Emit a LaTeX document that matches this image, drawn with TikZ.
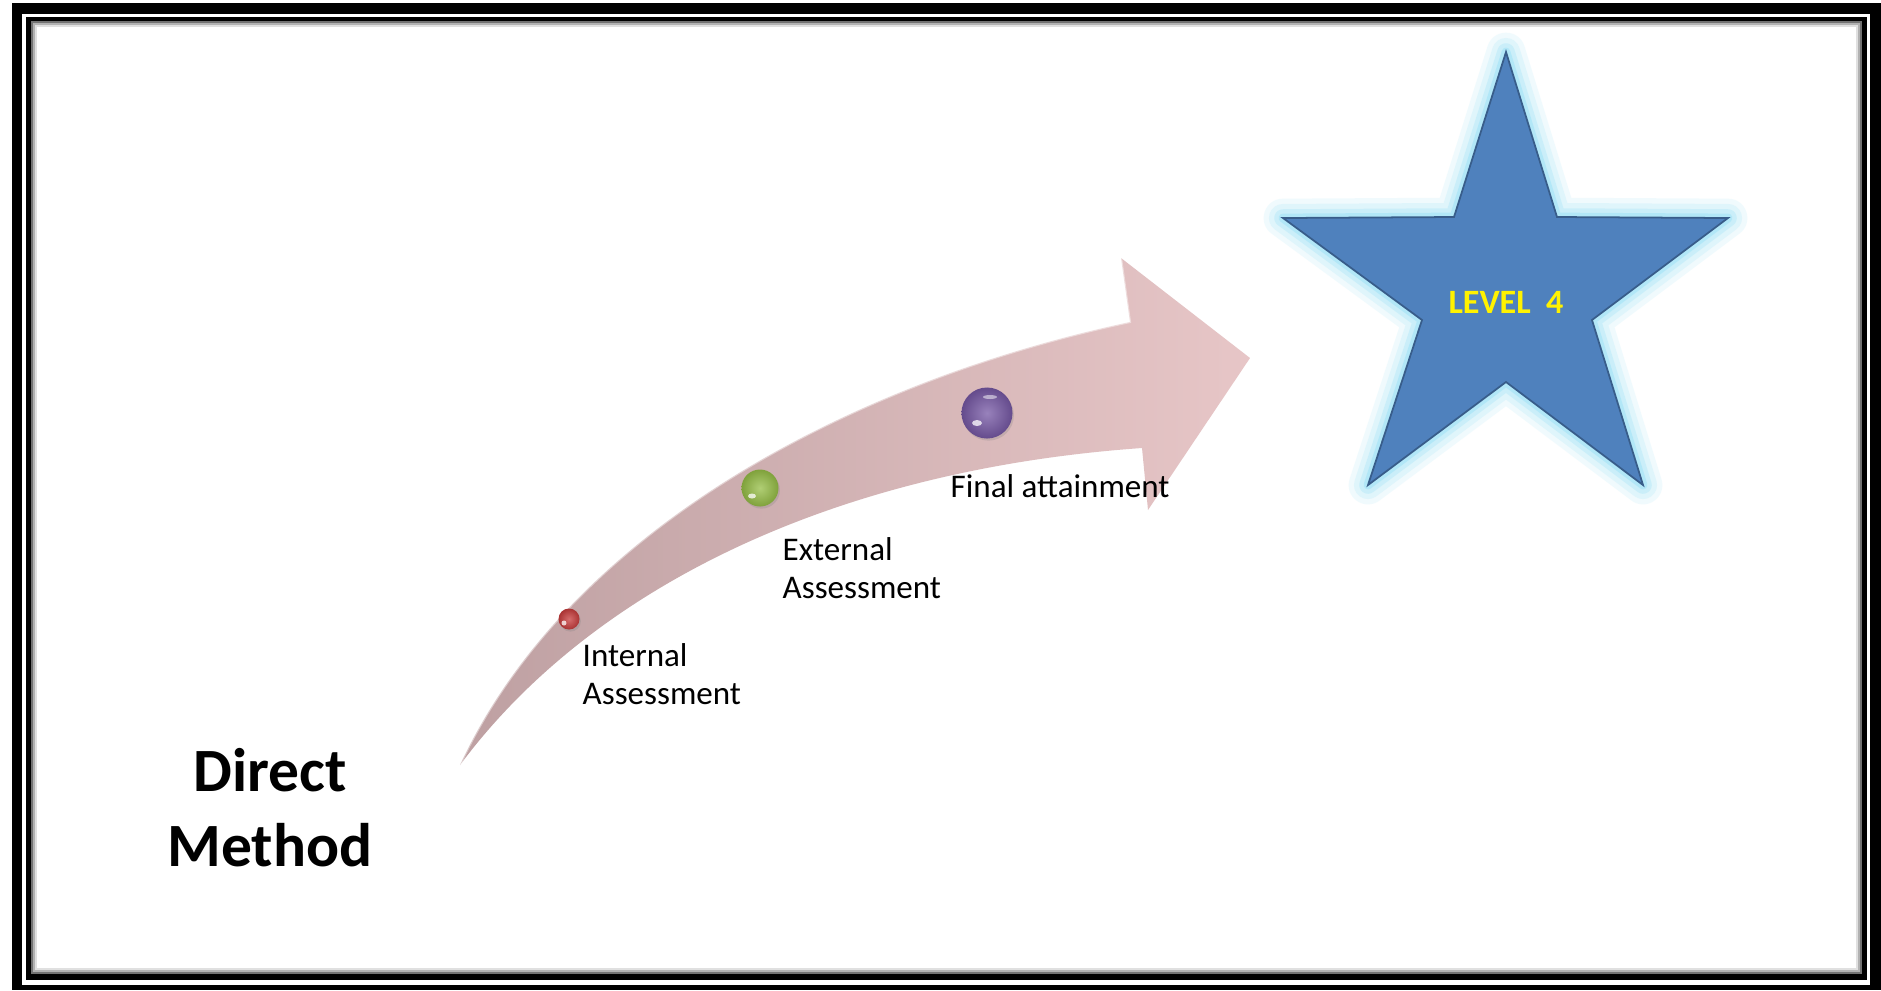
\documentclass[tikz,border=0pt]{standalone}
\usepackage{fontspec}
\setmainfont{Carlito}
\usetikzlibrary{shadows}
\definecolor{starblue}{RGB}{79,129,189}
\definecolor{starline}{RGB}{56,93,138}
\definecolor{starglow}{RGB}{155,225,247}
\definecolor{arrowdark}{RGB}{190,160,162}
\definecolor{arrowlight}{RGB}{231,198,199}
\definecolor{ballred}{RGB}{200,60,60}
\definecolor{ballgreen}{RGB}{150,190,70}
\definecolor{ballpurple}{RGB}{118,88,165}
\newcommand\starpath{(1506,52) -- (1557,217) -- (1728,218) -- (1592,320) -- (1643,485) -- (1506,382) -- (1368,485) -- (1422,320) -- (1283,218) -- (1454,217) -- cycle}
\begin{document}
\begin{tikzpicture}[x=0.01cm,y=-0.01cm]
\tikzset{kugel/.style={circle,inner sep=0pt,inner color=#1!75!white,outer color=#1!85!black,
    drop shadow={opacity=0.25,shadow xshift=0.4pt,shadow yshift=-0.6pt}},
  etikett/.style={inner sep=0pt,anchor=north west,align=left,font=\fontsize{9.4}{10.8}\selectfont}}
\useasboundingbox (0,0) rectangle (1881,990);
% rahmen
\fill[white] (0,0) rectangle (1881,990);
\fill[black] (12,3) rectangle (1881,990);
\fill[white] (22,14) rectangle (1870,985);
\fill[black] (26,17) rectangle (1867,980);
\fill[white] (31,21) rectangle (1862,974);
\foreach \i/\c in {1/55,3/30,5/12}
  \draw[black!\c,line width=0.6pt] (31+\i,21+\i) rectangle (1862-\i,974-\i);
% pfeil
\shade[left color=arrowdark,right color=arrowlight]
  (460,765) .. controls (568,532) and (848,382) .. (1130,322)
  -- (1121,258) -- (1250,358) -- (1148,510) -- (1142,448)
  .. controls (830,470) and (590,590) .. (460,765) -- cycle;
\draw[white,opacity=0.45,line width=0.6pt]
  (460,765) .. controls (568,532) and (848,382) .. (1130,322) -- (1121,258);
% stern
\foreach \w/\o in {11/0.15,8/0.2,5/0.3,2.5/0.5}
  \draw[starglow,line width=\w pt,opacity=\o,line join=round] \starpath;
\filldraw[fill=starblue,draw=starline,line width=0.5pt] \starpath;
\node[font=\bfseries\fontsize{9.7}{11}\selectfont,text=yellow] (level) at (1506,302) {LEVEL\ \ 4};
% kugeln
\node[kugel=ballred,minimum size=0.21cm] (intern) at (569,619) {};
\node[kugel=ballgreen,minimum size=0.37cm] (extern) at (760,488) {};
\node[kugel=ballpurple,minimum size=0.51cm] (final) at (987,413) {};
\fill[white,opacity=0.75] (564,623) circle (2.5);
\fill[white,opacity=0.75] (752,496) ellipse (4 and 2.5);
\fill[white,opacity=0.75] (977,423) ellipse (5 and 3);
\fill[white,opacity=0.5] (990,397) ellipse (7 and 2);
% texte
\node[etikett] (internlabel) at (582,643) {Internal\\Assessment};
\node[etikett] (externlabel) at (782,537) {External\\Assessment};
\node[etikett] (finallabel) at (950,474) {Final attainment};
\node[align=center,font=\bfseries\fontsize{17.5}{21.3}\selectfont] (methode) at (270,808) {Direct\\Method};
\end{tikzpicture}
\end{document}
